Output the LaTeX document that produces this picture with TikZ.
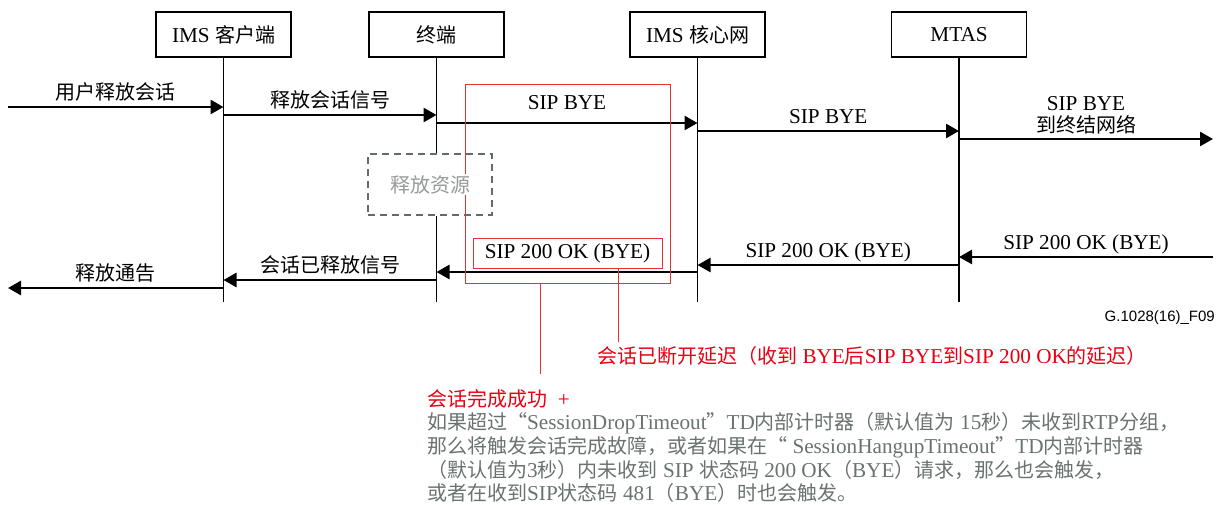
\documentclass[tikz,border=0pt]{standalone}
\usepackage{fontspec}
\setmainfont{Liberation Serif}[Scale=1.06]
\newfontfamily\cjkfont{Noto Sans CJK SC}
\newfontfamily\latinfont{Liberation Serif}[Scale=1.06]
\newfontfamily\figfont{Liberation Sans}
\usetikzlibrary{positioning,arrows.meta}

% switch to the CJK font for Chinese characters
\XeTeXinterchartokenstate=1
\newXeTeXintercharclass\cjkclass
\newcount\cjkcode
\def\cjkrange#1#2{\cjkcode=#1
  \loop \XeTeXcharclass\cjkcode=\cjkclass \advance\cjkcode by 1
  \ifnum\cjkcode<#2 \repeat}
\cjkrange{"4E00}{"A000}
\cjkrange{"3000}{"3040}
\cjkrange{"FF00}{"FFF0}
\cjkrange{"201C}{"201E}
\XeTeXinterchartoks 0 \cjkclass = {\cjkfont}
\XeTeXinterchartoks 4095 \cjkclass = {\cjkfont}
\XeTeXinterchartoks \cjkclass 0 = {\latinfont}
\XeTeXinterchartoks \cjkclass 4095 = {\latinfont}

\newcommand\notefont{\fontsize{20}{23.7}\selectfont\lineskiplimit=-20pt\relax}

\definecolor{redtext}{RGB}{230,0,18}
\definecolor{redline}{RGB}{232,50,50}
\definecolor{graytext}{RGB}{105,114,110}
\definecolor{dashgray}{RGB}{100,108,105}
\definecolor{softgray}{RGB}{150,154,152}

\begin{document}
\begin{tikzpicture}[x=1pt, y=-1pt, font=\fontsize{20}{22}\selectfont,
    head/.style={draw, line width=1.3pt, minimum width=135pt, minimum height=45pt, inner sep=0pt},
    life/.style={line width=1.2pt},
    msg/.style={-{Triangle[length=13pt,width=14pt]}, line width=2.6pt},
    lbl/.style={above=1pt, inner sep=1pt, text height=14pt, text depth=4pt},
    redbox/.style={draw=redline, line width=1pt}]
    \useasboundingbox (0,0) rectangle (1224,504);

    % actors
    \node[head] (cli)  at (223.5,34.5) {IMS 客户端};
    \node[head] (term) at (436.5,34.5) {终端};
    \node[head] (core) at (697.5,34.5) {IMS 核心网};
    \node[head] (mtas) at (959,34.5)   {MTAS};

    % lifelines
    \coordinate (bot) at (0,302);
    \node[draw=dashgray, dashed, dash pattern=on 7pt off 5pt, line width=1.5pt,
          minimum width=124pt, minimum height=61pt] (rel) at (430,184.5) {};
    \draw[life] (cli.south) -- (cli |- bot);
    \draw[life] (term.south) -- (term |- rel.north);
    \draw[life] (term |- rel.south) -- (term |- bot);
    \draw[life] (core.south) -- (core |- bot);
    \draw[life] (mtas.south) -- (mtas |- bot);

    % release
    \coordinate (user) at (8,107);
    \coordinate (netout) at (1213,139);
    \draw[msg] (user) -- node[lbl] {用户释放会话} (cli |- user);
    \draw[msg] (cli |- 0,115) -- node[lbl] {释放会话信号} (term |- 0,115);
    \draw[msg] (term |- 0,123) -- node[lbl, above=7pt] {SIP BYE} (core |- 0,123);
    \draw[msg] (core |- 0,131) -- node[lbl] {SIP BYE} (mtas |- 0,131);
    \draw[msg] (mtas |- netout) -- node[above=3pt, inner sep=1pt, align=center] {SIP BYE\\到终结网络} (netout);

    % answers
    \coordinate (netin) at (1213,257);
    \coordinate (relout) at (8,288);
    \draw[msg] (netin) -- node[lbl] {SIP 200 OK (BYE)} (mtas |- netin);
    \draw[msg] (mtas |- 0,265) -- node[lbl] {SIP 200 OK (BYE)} (core |- 0,265);
    \draw[msg] (core |- 0,272) -- (term |- 0,272);
    \draw[msg] (term |- 0,280) -- node[lbl] {会话已释放信号} (cli |- 0,280);
    \draw[msg] (cli |- relout) -- node[lbl] {释放通告} (relout);

    % measuring window
    \node[redbox, minimum width=205pt, minimum height=199pt] (win) at (567.5,183.5) {};
    \node[redbox, fill=white, minimum width=189pt, minimum height=30pt, inner sep=0pt] (okbye) at (567.5,253) {SIP 200 OK (BYE)};
    \node[text=softgray, fill=white, inner sep=1pt] (reltxt) at (rel) {释放资源};

    % notes
    \coordinate (c1) at (540,374);
    \coordinate (c2) at (618,342);
    \draw[redline, line width=1pt] (win.south -| c1) -- (c1);
    \draw[redline, line width=1pt] (okbye.south -| c2) -- (c2);
    \node[text=redtext, anchor=west, inner sep=0pt] (delay) at (597,356)
      {会话已断开延迟（收到 BYE后SIP BYE到SIP 200 OK的延迟）};
    \node[text=graytext, anchor=north west, align=left, inner sep=0pt,
          font=\notefont] (okfail) at (427,389)
      {{\color{redtext}会话完成成功~~+}\\
       如果超过“SessionDropTimeout”TD内部计时器（默认值为 15秒）未收到RTP分组，\\
       那么将触发会话完成故障，或者如果在“ SessionHangupTimeout”TD内部计时器\\
       （默认值为3秒）内未收到 SIP 状态码 200 OK（BYE）请求，那么也会触发，\\
       或者在收到SIP状态码 481（BYE）时也会触发。};

    \node[font=\figfont\fontsize{15}{15}\selectfont, anchor=east, inner sep=0pt] (figid) at (1215,318) {G.1028(16)\_F09};
\end{tikzpicture}
\end{document}
